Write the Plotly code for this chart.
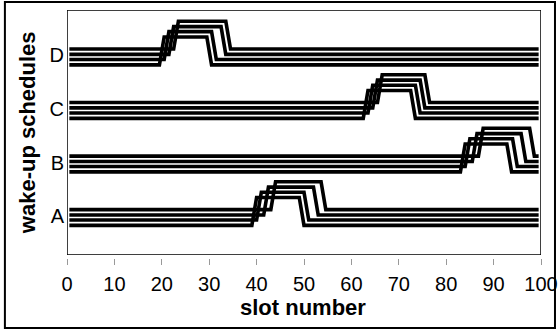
import plotly.graph_objects as go

# categories (bottom to top on the chart)
categories = ["A", "B", "C", "D"]
cat_values = [1, 2, 3, 4]

# four wake-up schedules per category, listed bottom line -> top line
line_offsets = [-0.175, -0.075, 0.02, 0.12]
pulse_height = 0.52

# slot where each schedule starts to wake up / goes back to sleep
rise_at = {
    "A": [39, 40, 41.5, 43],
    "B": [83, 84, 85.5, 86.8],
    "C": [62.5, 63.5, 64.5, 65.5],
    "D": [19.5, 20.5, 21.5, 22.5],
}
fall_at = {
    "A": [49, 50, 52, 53.6],
    "B": [92.8, 94, 95.8, 97.6],
    "C": [72.5, 73.5, 74.5, 75.5],
    "D": [29.5, 30.5, 32.5, 33.5],
}
first_slot = 0.5
last_slot = 99.5

x_ticks = [0, 10, 20, 30, 40, 50, 60, 70, 80, 90, 100]

FONT = "Liberation Sans, Arial, sans-serif"

fig = go.Figure()
for cat, cv in zip(categories, cat_values):
    for k, off in enumerate(line_offsets):
        base = cv + off
        s, e = rise_at[cat][k], fall_at[cat][k]
        xs = [first_slot, s, s + 1, e, e + 1, last_slot]
        ys = [base, base, base + pulse_height, base + pulse_height, base, base]
        fig.add_trace(go.Scatter(x=xs, y=ys, mode="lines",
                                 line=dict(color="black", width=3.6),
                                 showlegend=False))

y_lo, y_hi = 0.271, 4.85

fig.update_layout(
    width=559, height=331,
    margin=dict(l=67, r=18, t=10, b=73),
    paper_bgcolor="white", plot_bgcolor="white",
    font=dict(family=FONT, color="black", size=20),
    xaxis=dict(range=[0, 100], tickvals=x_ticks, ticktext=[str(v) for v in x_ticks],
               showgrid=False, zeroline=False, showline=False,
               ticks="outside", ticklen=6, tickcolor="#999999", tickwidth=1,
               anchor="free", position=0, ticklabelstandoff=2, automargin=False,
               tickfont=dict(size=20, family=FONT)),
    yaxis=dict(range=[y_lo, y_hi], domain=[0.012, 1],
               tickvals=cat_values, ticktext=categories,
               showgrid=False, zeroline=False, showline=False, ticks="",
               ticklabelstandoff=2, automargin=False,
               tickfont=dict(size=20, family=FONT)),
)

# plot-area frame
fig.add_shape(type="rect", xref="x", yref="y", x0=0, x1=100, y0=y_lo, y1=y_hi,
              line=dict(color="black", width=1.5), layer="above")
# outer frame
fig.add_shape(type="rect", xref="paper", yref="paper",
              x0=-0.131, x1=1.0295, y0=-0.282, y1=1.032,
              line=dict(color="black", width=2))

fig.add_annotation(text="<b>slot number</b>", xref="paper", yref="paper",
                   x=0.498, y=-0.198, xanchor="center", yanchor="middle",
                   showarrow=False, font=dict(size=22, family=FONT))
fig.add_annotation(text="<b>wake-up schedules</b>", xref="paper", yref="paper",
                   x=-0.084, y=0.504, xanchor="center", yanchor="middle",
                   showarrow=False, textangle=-90,
                   font=dict(size=22, family=FONT))

fig.write_html("out.html", config={"displayModeBar": False},
               post_script="document.body.style.margin='0px';")
